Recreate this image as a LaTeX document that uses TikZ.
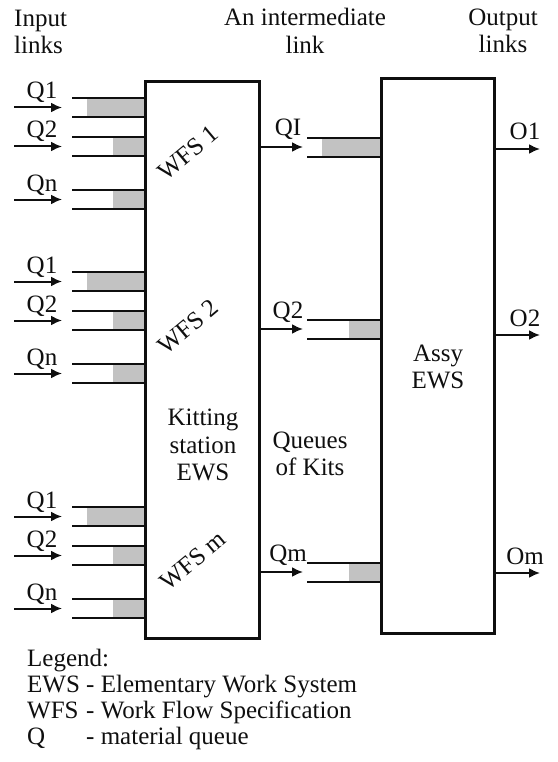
\documentclass[tikz,border=0pt]{standalone}
\usepackage{fontspec}
\setmainfont{Liberation Serif}
\usepackage{tikz}
\usetikzlibrary{arrows.meta,positioning}
\definecolor{QueueGray}{RGB}{194,194,194}
\definecolor{InkBlack}{RGB}{15,15,15}

\begin{document}
\begin{tikzpicture}[x=1pt, y=-1pt,
    font=\fontsize{25}{27.5}\selectfont, text=InkBlack,
    station/.style={draw=InkBlack, line width=2.6pt, rectangle, inner sep=0pt, anchor=north west},
    qwall/.style={draw=InkBlack, line width=2.4pt},
    qfill/.style={fill=QueueGray},
    flow/.style={-{Latex[length=11pt,width=10pt]}, draw=InkBlack, line width=2pt},
    qlabel/.style={anchor=base, inner sep=0pt},
    wfs/.style={rotate=40, inner sep=0pt}]
    \useasboundingbox (0,0) rectangle (557,762);

    % headers
    \node [anchor=west, align=left, inner sep=0pt] (inhead) at (14,32) {Input\\links};
    \node [align=center, inner sep=0pt] (midhead) at (305,31) {An intermediate\\link};
    \node [align=center, inner sep=0pt] (outhead) at (503,31) {Output\\links};

    % stations
    \node [station, minimum width=114pt, minimum height=557pt] (kit) at (144,80) {};
    \node [station, minimum width=113pt, minimum height=555pt] (assy) at (380,77) {};
    \node [align=center, inner sep=0pt] (kittext) at (203,445) {Kitting\\station\\EWS};
    \node [align=center, inner sep=0pt] (assytext) at (438,367) {Assy\\EWS};
    \node [align=center, inner sep=0pt] (kitqueues) at (310,454) {Queues\\of Kits};

    % input queues of the work flows
    \foreach \gy/\wx/\wy/\wname [count=\g] in {98/188/153/WFS 1, 272/188/327/WFS 2, 507/193/561/WFS m} {
      \node [wfs] (wfs-\g) at (\wx,\wy) {\wname};
      \foreach \dy/\gx/\qn [count=\k] in {0/87/Q1, 39/113/Q2, 92/113/Qn} {
        \fill [qfill] (\gx,\gy+\dy) rectangle (144,\gy+\dy+19);
        \draw [qwall] (72,\gy+\dy) -- (144,\gy+\dy);
        \draw [qwall] (72,\gy+\dy+19) -- (144,\gy+\dy+19);
        \coordinate (src-\g-\k) at (14,\gy+\dy+9.5);
        \coordinate (mouth-\g-\k) at (62,\gy+\dy+9.5);
        \draw [flow] (src-\g-\k) -- (mouth-\g-\k);
        \node [qlabel] (lab-\g-\k) at (42,\gy+\dy+1) {\qn};
      }
    }

    % queues of kits and outputs
    \foreach \my/\gx/\mname/\oy/\oname [count=\k] in {147/322/QI/149/O1, 329/349/Q2/335/O2, 572/349/Qm/573/Om} {
      \fill [qfill] (\gx,\my-9) rectangle (380,\my+10);
      \draw [qwall] (307,\my-9) -- (380,\my-9);
      \draw [qwall] (307,\my+10) -- (380,\my+10);
      \coordinate (kitq-\k) at (303,\my);
      \draw [flow] (kit.east |- kitq-\k) -- (kitq-\k);
      \node [qlabel] (kitlab-\k) at (288,\my-11) {\mname};
      \coordinate (out-\k) at (540,\oy);
      \draw [flow] (assy.east |- out-\k) -- (out-\k);
      \node [qlabel] (outlab-\k) at (525,\oy-9) {\oname};
    }

    % legend
    \node [anchor=north west, inner sep=0pt, font=\fontsize{25}{26}\selectfont] (legend) at (27,648) {%
      \begin{tabular}{@{}l@{ }l@{}}
        \multicolumn{2}{@{}l}{Legend:}\\
        EWS & - Elementary Work System\\
        WFS & - Work Flow Specification\\
        Q   & - material queue
      \end{tabular}};
\end{tikzpicture}
\end{document}
